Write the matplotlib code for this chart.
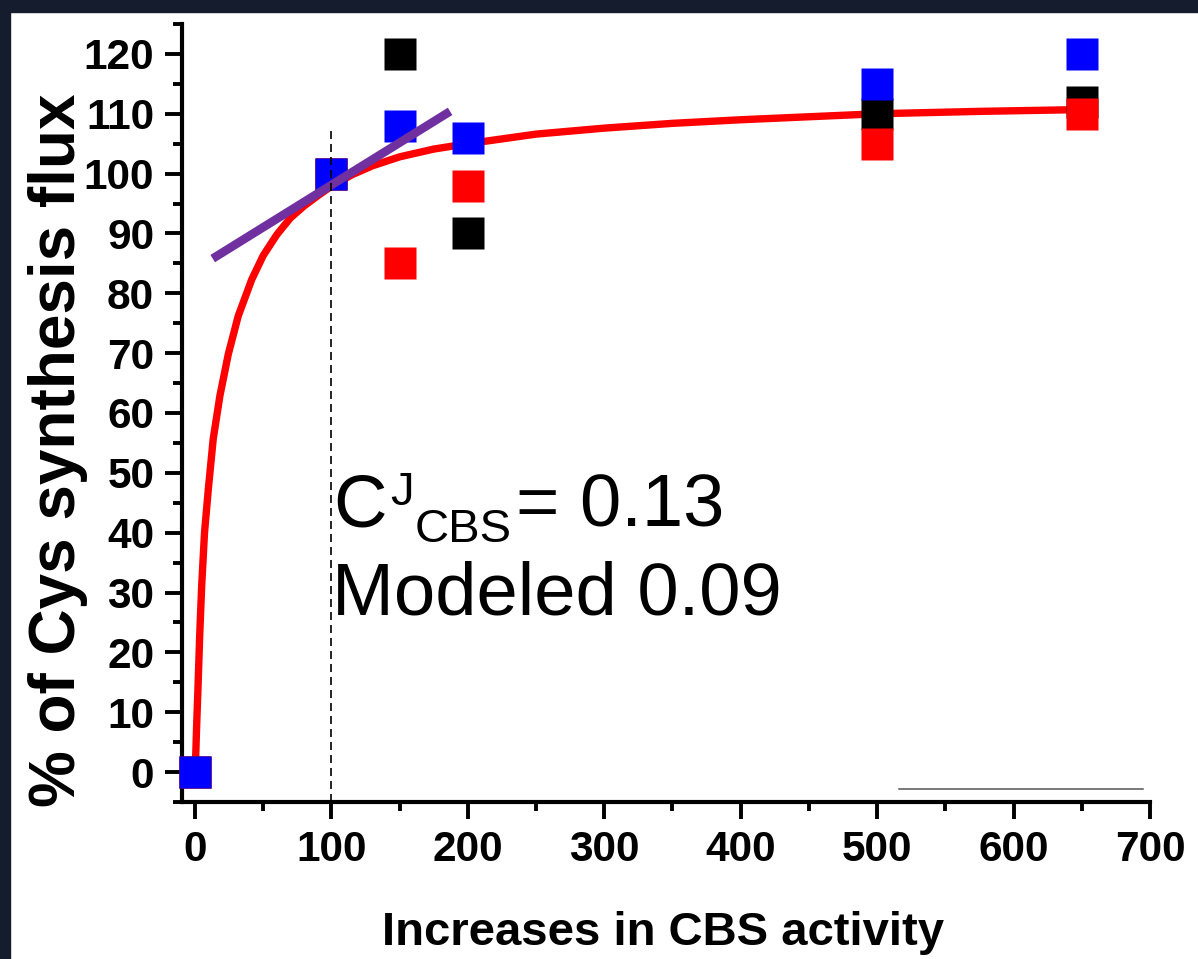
import matplotlib
matplotlib.use('Agg')
import matplotlib.pyplot as plt
from matplotlib.patches import Rectangle
from matplotlib.ticker import MultipleLocator

plt.rcParams['font.family'] = ['Liberation Sans', 'DejaVu Sans']

# measured points (three experiments)
x_pts = [0, 100, 150, 200, 500, 650]
black_y = [0, 100, 120, 90, 110, 112]
red_y = [0, 100, 85, 98, 105, 110]
blue_y = [0, 100, 108, 106, 115, 120]

# fitted curve
fit_x = [0, 0.6, 1.2, 2.2, 3.5, 4.9, 7, 9.8, 13.4, 18.3, 24.4, 31.7, 41.6, 50, 60,
         70, 80, 90, 100, 115, 130, 150, 175, 200, 250, 300, 350, 400, 450, 500,
         575, 650]
fit_y = [0, 3, 7.5, 14, 23, 31, 40, 47.3, 55.7, 62.9, 69.8, 76.2, 82.3, 86.3, 89.8,
         92.6, 94.6, 96.3, 97.9, 99.8, 101.3, 102.8, 104.1, 105.0, 106.6, 107.6,
         108.4, 109.0, 109.5, 110.0, 110.4, 110.7]

# tangent at 100
tan_x = [13, 187]
tan_y = [85.8, 110.4]

# reference line at 100
ref_x = [100, 100]
ref_y = [-5, 108]

# thin gray line near the bottom right
gray_x = [516, 695]
gray_y = [-2.85, -2.85]

fig = plt.figure(figsize=(11.98, 9.59), dpi=100)
fig.patches.append(Rectangle((0, 1 - 12/959), 1, 12/959, transform=fig.transFigure,
                             color='#141c2d', zorder=0))
fig.patches.append(Rectangle((0, 0), 10/1198, 1, transform=fig.transFigure,
                             color='#141c2d', zorder=0))

ax = fig.add_axes([182/1198, 1 - 802/959, (1150 - 182)/1198, (802 - 24)/959])
ax.set_facecolor('none')

ax.plot(fit_x, fit_y, color='#ff0000', lw=5.3, zorder=2, solid_capstyle='butt',
        solid_joinstyle='round')
for yy, c in [(black_y, 'black'), (red_y, '#ff0000'), (blue_y, '#0000ff')]:
    ax.plot(x_pts, yy, ls='none', marker='s', ms=22.5, mec='none', mfc=c,
            zorder=3, clip_on=False)
ax.plot(tan_x, tan_y, color='#7030a0', lw=6.2, zorder=4, solid_capstyle='butt')
ax.plot(ref_x, ref_y, color='black', lw=1.2, ls=(0, (4.8, 3)), zorder=4)
ax.plot(gray_x, gray_y, color='#555555', lw=1.1, zorder=1, clip_on=False)

ax.set_xlim(-9.5, 700)
ax.set_ylim(-5, 125)
for s in ['top', 'right']:
    ax.spines[s].set_visible(False)
for s in ['left', 'bottom']:
    ax.spines[s].set_linewidth(3)
ax.xaxis.set_major_locator(MultipleLocator(100))
ax.xaxis.set_minor_locator(MultipleLocator(50))
ax.yaxis.set_major_locator(MultipleLocator(10))
ax.yaxis.set_minor_locator(MultipleLocator(5))
ax.tick_params(which='major', direction='out', length=12, width=2.8, pad=8,
               labelsize=30.5)
ax.tick_params(which='minor', direction='out', length=6.5, width=2.8)
for lab in ax.get_xticklabels() + ax.get_yticklabels():
    lab.set_fontweight('bold')

fig.text(663/1198, 1 - 945/959, 'Increases in CBS activity', ha='center',
         va='baseline', fontsize=34, fontweight='bold')
fig.text(58/1198, 1 - 450/959, '% of Cys synthesis flux', rotation=90,
         ha='center', va='center', fontsize=46, fontweight='bold')

# coefficient text
ax.text(101.6, 41.1, 'C', fontsize=53.5, va='baseline', ha='left', zorder=5)
ax.text(143.5, 44.6, 'J', fontsize=34, va='baseline', ha='left', zorder=5)
ax.text(161.0, 38.5, 'CBS', fontsize=34, va='baseline', ha='left', zorder=5)
ax.text(235.0, 41.1, '= 0.13', fontsize=53.5, va='baseline', ha='left', zorder=5)
ax.text(100.5, 26.4, 'Modeled 0.09', fontsize=53.5, va='baseline', ha='left', zorder=5)

fig.savefig('out.png', dpi=100)
